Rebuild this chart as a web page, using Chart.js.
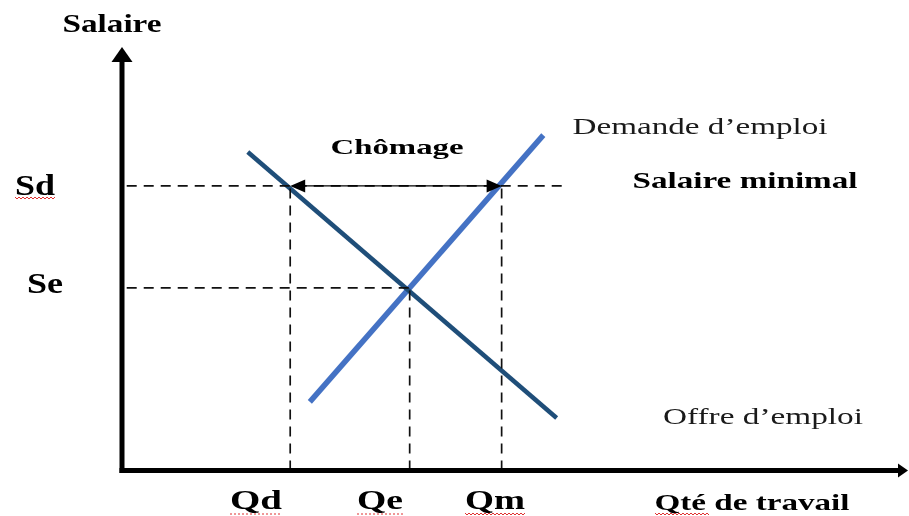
<!DOCTYPE html>
<html lang="fr">
<head>
<meta charset="utf-8">
<title>Salaire minimal et chômage</title>
<script src="https://cdn.jsdelivr.net/npm/chart.js@4.4.1/dist/chart.umd.min.js"></script>
<style>
  html, body { margin: 0; padding: 0; background: #fff; }
  canvas { display: block; }
</style>
</head>
<body>
<canvas id="chart" width="909" height="516"></canvas>
<script>
// --- Valeurs (unités arbitraires, axes 0..10) ---
const qLevels = { Qd: 2.14, Qe: 3.66, Qm: 4.83 };
const sLevels = { Sd: 6.72, Se: 4.31 };

// Offre d'emploi (droite décroissante) et demande d'emploi (croissante)
const offreX = [1.60, 5.53];
const offreY = [7.52, 1.24];
const demandeX = [2.39, 5.36];
const demandeY = [1.62, 7.92];

// Fin de la ligne pointillée du salaire minimal
const sdLineEnd = 5.6;
const dashStart = 0.06;

// --- Textes ---
const axisTitleY = "Salaire";
const axisTitleX = "Qté de travail";
const offreLabel = "Offre d’emploi";
const demandeLabel = "Demande d’emploi";
const minLabel = "Salaire minimal";
const gapLabel = "Chômage";

const toPts = (xs, ys) => xs.map((x, i) => ({ x, y: ys[i] }));

const dash = (pts) => ({
  data: pts,
  showLine: true,
  borderColor: "#111",
  borderWidth: 1.7,
  borderDash: [10, 7],
  pointRadius: 0,
});

const datasets = [
  dash([{ x: dashStart, y: sLevels.Sd }, { x: sdLineEnd, y: sLevels.Sd }]),
  dash([{ x: dashStart, y: sLevels.Se }, { x: qLevels.Qe, y: sLevels.Se }]),
  dash([{ x: qLevels.Qd, y: 0 }, { x: qLevels.Qd, y: sLevels.Sd }]),
  dash([{ x: qLevels.Qe, y: 0 }, { x: qLevels.Qe, y: sLevels.Se }]),
  dash([{ x: qLevels.Qm, y: 0 }, { x: qLevels.Qm, y: sLevels.Sd }]),
  {
    data: toPts(offreX, offreY),
    showLine: true,
    borderColor: "#1f4e79",
    borderWidth: 4.5,
    borderCapStyle: "butt",
    pointRadius: 0,
  },
  {
    data: toPts(demandeX, demandeY),
    showLine: true,
    borderColor: "#4472c4",
    borderWidth: 5.5,
    borderCapStyle: "butt",
    pointRadius: 0,
  },
];

// Textes : centre x, ligne de base, largeur visée, taille, gras
const texts = [
  { text: axisTitleY, cx: 112, base: 32, w: 99, size: 26, bold: true },
  { text: "Sd", cx: 35, base: 195, w: 40, size: 30, bold: true },
  { text: "Se", cx: 45, base: 293, w: 36, size: 30, bold: true },
  { text: "Qd", cx: 256, base: 509, w: 52, size: 28, bold: true },
  { text: "Qe", cx: 380, base: 509, w: 46, size: 28, bold: true },
  { text: "Qm", cx: 495, base: 509, w: 60, size: 28, bold: true },
  { text: axisTitleX, cx: 752, base: 510, w: 195, size: 23, bold: true },
  { text: demandeLabel, cx: 700, base: 134, w: 255, size: 24, bold: false },
  { text: minLabel, cx: 745, base: 188, w: 225, size: 23, bold: true },
  { text: offreLabel, cx: 763, base: 424, w: 200, size: 24, bold: false },
  { text: gapLabel, cx: 397, base: 154, w: 133, size: 22, bold: true },
];

// soulignements rouges (correcteur) sous certains libellés
const squiggles = [
  { x0: 15, x1: 55, y: 198, wavy: true },
  { x0: 230, x1: 282, y: 514, wavy: false },
  { x0: 357, x1: 403, y: 514, wavy: false },
  { x0: 465, x1: 525, y: 514, wavy: true },
  { x0: 655, x1: 710, y: 514, wavy: true },
];

function drawFit(ctx, t) {
  ctx.font = `${t.bold ? "bold " : ""}${t.size}px "Liberation Serif", "Times New Roman", serif`;
  const w = ctx.measureText(t.text).width;
  ctx.save();
  ctx.translate(t.cx - t.w / 2, t.base);
  ctx.scale(t.w / w, 1);
  ctx.fillStyle = t.bold ? "#000" : "#1a1a1a";
  ctx.textBaseline = "alphabetic";
  ctx.fillText(t.text, 0, 0);
  ctx.restore();
}

function arrowHead(ctx, x, y, dir, len, half) {
  ctx.beginPath();
  ctx.moveTo(x, y);
  ctx.lineTo(x - dir * len, y - half);
  ctx.lineTo(x - dir * len, y + half);
  ctx.closePath();
  ctx.fill();
}

const diagramPlugin = {
  id: "diagram",
  afterDatasetsDraw(chart) {
    const { ctx, scales } = chart;
    const xs = scales.x, ys = scales.y;
    const x0 = xs.getPixelForValue(0);
    const y0 = ys.getPixelForValue(0);
    const xEnd = xs.getPixelForValue(10);
    const yTop = ys.getPixelForValue(10);

    ctx.save();
    ctx.fillStyle = "#000";
    ctx.strokeStyle = "#000";

    // axe vertical + flèche
    ctx.lineWidth = 5;
    ctx.beginPath();
    ctx.moveTo(x0, y0 + 2.5);
    ctx.lineTo(x0, yTop + 14);
    ctx.stroke();
    ctx.beginPath();
    ctx.moveTo(x0, yTop);
    ctx.lineTo(x0 - 10.5, yTop + 15);
    ctx.lineTo(x0 + 10.5, yTop + 15);
    ctx.closePath();
    ctx.fill();

    // axe horizontal + flèche
    ctx.beginPath();
    ctx.moveTo(x0 - 2.5, y0);
    ctx.lineTo(xEnd - 9, y0);
    ctx.stroke();
    arrowHead(ctx, xEnd, y0, 1, 10, 7);

    // flèche double du chômage
    const sy = ys.getPixelForValue(sLevels.Sd);
    const qd = xs.getPixelForValue(qLevels.Qd);
    const qm = xs.getPixelForValue(qLevels.Qm);
    ctx.lineWidth = 1.4;
    ctx.beginPath();
    ctx.moveTo(qd + 10, sy);
    ctx.lineTo(qm - 10, sy);
    ctx.stroke();
    arrowHead(ctx, qd, sy, -1, 15, 6.5);
    arrowHead(ctx, qm, sy, 1, 15, 6.5);

    // textes
    texts.forEach((t) => drawFit(ctx, t));

    // soulignements rouges
    ctx.strokeStyle = "#e03030";
    ctx.lineWidth = 1;
    squiggles.forEach((s) => {
      ctx.beginPath();
      if (s.wavy) {
        for (let x = s.x0, k = 0; x <= s.x1; x += 2, k++) {
          const y = s.y + (k % 2 ? 1 : -1);
          if (k === 0) ctx.moveTo(x, y);
          else ctx.lineTo(x, y);
        }
        ctx.stroke();
      } else {
        ctx.setLineDash([2, 2]);
        ctx.moveTo(s.x0, s.y);
        ctx.lineTo(s.x1, s.y);
        ctx.stroke();
        ctx.setLineDash([]);
      }
    });
    ctx.restore();
  },
};

const whiteBg = {
  id: "whiteBg",
  beforeDraw(chart) {
    const { ctx, width, height } = chart;
    ctx.save();
    ctx.fillStyle = "#fff";
    ctx.fillRect(0, 0, width, height);
    ctx.restore();
  },
};

new Chart(document.getElementById("chart"), {
  type: "scatter",
  data: { datasets },
  options: {
    responsive: false,
    animation: false,
    layout: { padding: { left: 122, right: 1, top: 47, bottom: 45.5 } },
    scales: {
      x: { type: "linear", min: 0, max: 10, display: false },
      y: { type: "linear", min: 0, max: 10, display: false },
    },
    plugins: {
      legend: { display: false },
      tooltip: { enabled: false },
    },
    elements: { line: { tension: 0 } },
  },
  plugins: [whiteBg, diagramPlugin],
});
</script>
</body>
</html>
